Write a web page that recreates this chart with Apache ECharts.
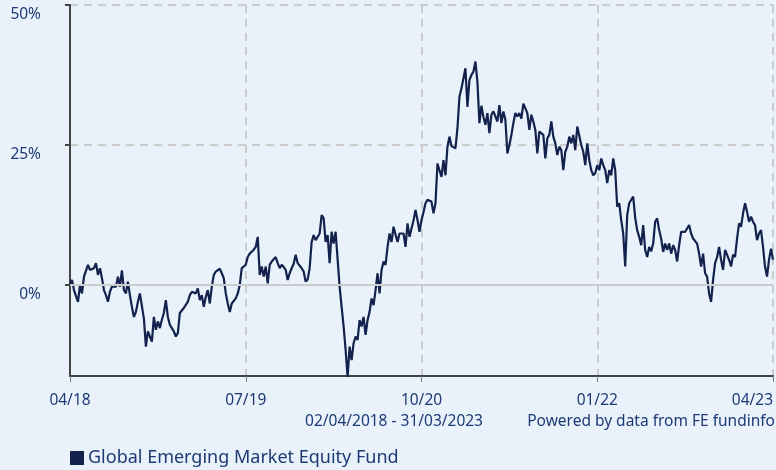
<!DOCTYPE html>
<html>
<head>
<meta charset="utf-8">
<script src="https://cdn.jsdelivr.net/npm/echarts@6/dist/echarts.min.js"></script>
<style>
html,body{margin:0;padding:0;background:#e9f2fa;}
#chart{width:776px;height:470px;}
</style>
</head>
<body>
<div id="chart"></div>
<script>
// Cumulative performance (%) of the fund, sampled evenly from 02/04/2018 to 31/03/2023
var perf2018 = [0,0.9,-0.9,-0.9,-3.0,0,-1.5,1.5,1.2,3.6,2.7,2.4,3.0,3.9,1.8,3.0,1.2,-0.9,-1.8,-3.0,
  -1.2,-0.3,-0.6,-0.3,1.5,-0.3,2.6,-0.9,-1.5,0.6,-1.8,-3.9,-5.7,-4.8,-3.0,-1.5,-1.2,-6.0,-11.0,-8.3,
  -9.2,-10.1,-5.7,-8.0,-6.5,-7.7,-6.2,-5.0,-2.7,-5.7,-7.1,-7.7,-8.3,-9.2,-8.6,-5.0,-4.8,-4.1,-3.9,-3.0,
  -1.8,-1.2,-0.9,-1.5,-0.6,-2.7,-1.8,-3.9,-2.1,-0.9];
var perf2019 = [-3.3,-0.3,1.8,2.4,2.7,2.9,2.1,1.2,-1.5,-3.3,-4.8,-3.3,-3.0,-2.4,-1.5,0,3.0,3.3,3.6,5.0,
  5.6,5.9,6.3,6.8,8.6,1.8,3.3,1.5,3.3,0.3,3.6,4.2,4.6,5.0,3.9,3.0,3.6,3.2,2.7,0.9,
  2.1,3.0,3.8,5.4,3.9,3.6,3.0,2.4,0.6,1.0,3.0,7.7,8.9,8.0,7.7,9.2,12.5,11.9,7.7,8.9,
  3.9,9.5,7.4,9.5,9.2,-0.3,-3.9,-7.4,-11.6,-16.4];
var perf2020 = [-11.0,-13.4,-10.4,-9.2,-9.8,-6.25,-7.4,-5.7,-8.9,-6.25,-4.8,-2.4,-3.6,-0.9,2.1,-1.5,2.7,4.2,3.6,6.8,
  9.2,7.7,10.4,9.0,7.7,9.2,8.9,9.2,6.8,11.0,8.6,10.1,11.5,13.4,11.6,9.5,11.6,13.0,14.6,15.2,
  15.5,14.9,12.8,14.6,21.7,20.5,19.3,22.3,19.6,24.7,26.5,24.8,24.5,24.4,28.0,33.6,35.1,35.4,38.7,31.8,
  36.6,37.5,38.1,39.9,36.3,28.9,32.0,30.0,28.6,30.7];
var perf2021 = [27.1,30.4,31.0,31.3,29.2,32.1,28.9,31.0,29.5,23.5,25.0,26.8,28.9,30.7,30.1,30.7,29.7,32.4,32.7,30.7,
  27.7,30.4,29.2,27.7,23.5,27.4,27.7,26.8,22.6,26.2,26.8,29.2,26.5,25.3,23.2,24.7,24.1,20.5,23.8,24.7,
  26.5,25.3,26.8,24.1,28.3,28.6,25.0,23.8,21.4,25.3,22.3,20.5,19.6,20.0,21.4,20.5,22.6,21.4,20.5,18.2,
  20.5,19.6,22.6,20.5,14.0,14.6,11.6,9.2,3.3,12.5];
var perf2022 = [14.6,14.3,15.8,12.0,9.8,8.6,7.1,10.7,6.25,5.0,6.8,6.0,7.4,11.3,11.9,9.8,8.3,5.9,7.4,6.25,
  7.4,5.6,7.1,6.25,4.2,7.1,9.5,9.2,9.5,10.1,10.7,9.2,8.3,8.6,7.4,5.6,3.3,5.6,2.1,1.5,
  -1.5,-3.0,0.9,3.9,5.0,6.8,4.5,2.7,6.25,5.4,4.5,3.3,5.4,5.0,8.3,11.0,10.4,12.8,14.6,13.1,
  11.3,12.2,11.3,10.7,8.0,9.2,9.8,6.8,3.3,1.5,4.5,6.5,4.5];

var seriesName = 'Global Emerging Market Equity Fund';
var tickLabels = ['04/18', '07/19', '10/20', '01/22', '04/23'];
var yTicks = [0, 25, 50];
var dateRange = '02/04/2018 - 31/03/2023';
var credit = 'Powered by data from FE fundinfo';

var values = perf2018.concat(perf2019, perf2020, perf2021, perf2022);
var categories = values.map(function (v, i) { return i; });
var step = (values.length - 1) / (tickLabels.length - 1);
function isTick(i) { return i % step === 0; }

var textColor = '#1d3a74';
var fontFam = '"Noto Sans", "Open Sans", sans-serif';

var chart = echarts.init(document.getElementById('chart'));
chart.setOption({
  backgroundColor: '#e9f2fa',
  animation: false,
  grid: { left: 70, right: 1, top: 5, bottom: 94, containLabel: false },
  xAxis: {
    type: 'category',
    data: categories,
    boundaryGap: false,
    axisLine: { onZero: false, lineStyle: { color: '#444', width: 2 } },
    axisTick: { show: true, interval: function (i) { return isTick(i); }, length: 6, lineStyle: { color: '#777', width: 1 } },
    axisLabel: {
      interval: function (i) { return isTick(i); },
      formatter: function (v, i) { return tickLabels[Math.round(i / step)]; },
      color: textColor, fontSize: 15.5, fontFamily: fontFam, margin: 17,
      alignMaxLabel: 'right'
    },
    splitLine: { show: true, interval: function (i) { return isTick(i); }, lineStyle: { color: '#cccccc', width: 2, type: [8, 6] } }
  },
  yAxis: {
    type: 'value',
    min: -16.25,
    max: 50,
    axisLine: { show: true, lineStyle: { color: '#444', width: 2 } },
    axisTick: { show: true, length: 5, customValues: yTicks, lineStyle: { color: '#444', width: 2 } },
    axisLabel: {
      customValues: yTicks,
      formatter: '{value}%',
      color: textColor, fontSize: 15.5, fontFamily: fontFam, margin: 29,
      verticalAlign: 'top', padding: [2, 0, 0, 0]
    },
    splitLine: { show: true, lineStyle: { color: '#cccccc', width: 2, type: [8, 6] } }
  },
  legend: {
    data: [seriesName],
    left: 65, top: 444,
    itemGap: 0,
    icon: 'rect', itemWidth: 14, itemHeight: 14,
    textStyle: { color: textColor, fontSize: 18, fontFamily: fontFam, padding: [0, 0, 0, -1] }
  },
  graphic: [
    { type: 'text', x: 394, y: 422, style: { text: dateRange, fill: textColor, font: '15.5px ' + fontFam, textAlign: 'center', textVerticalAlign: 'middle' } },
    { type: 'text', x: 775, y: 422, style: { text: credit, fill: textColor, font: '15.5px ' + fontFam, textAlign: 'right', textVerticalAlign: 'middle' } }
  ],
  series: [
    {
      name: 'zeroLine', type: 'line', data: [], z: 1, silent: true,
      markLine: { silent: true, symbol: 'none', label: { show: false },
        lineStyle: { color: '#cccccc', width: 2, type: 'solid' },
        data: [{ yAxis: 0 }] }
    },
    {
      name: seriesName, type: 'line', data: values, z: 3,
      showSymbol: false, symbol: 'none',
      lineStyle: { color: '#13214d', width: 2.2 },
      itemStyle: { color: '#13214d' }
    }
  ]
});
</script>
</body>
</html>
